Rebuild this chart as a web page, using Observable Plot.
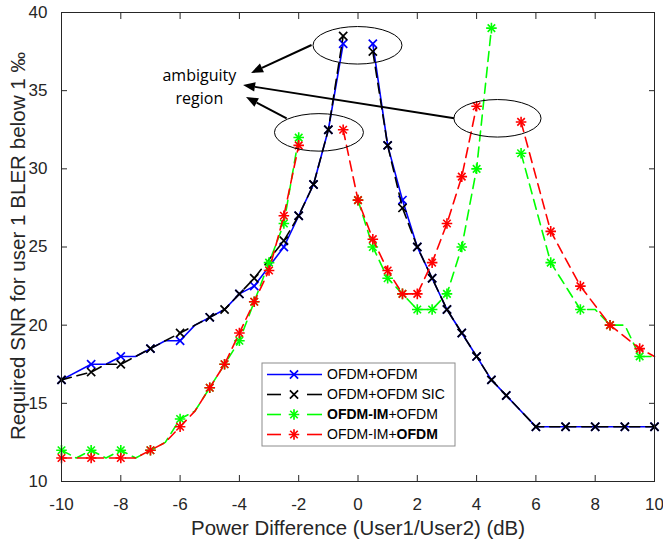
<!DOCTYPE html>
<html><head><meta charset="utf-8">
<script src="https://cdn.jsdelivr.net/npm/d3@7"></script>
<script src="https://cdn.jsdelivr.net/npm/@observablehq/plot@0.6"></script>
<style>body{margin:0;background:#fff;} #chart{width:663px;height:546px;}</style>
</head><body><div id="chart"></div>
<script>
// ---- data ----
const xTicks = [-10, -8, -6, -4, -2, 0, 2, 4, 6, 8, 10];
const yTicks = [10, 15, 20, 25, 30, 35, 40];

const xBlue = [-10,-9,-8.5,-8,-7.5,-7,-6.5,-6,-5.5,-5,-4.5,-4,-3.5,-2.5,-2,-1.5,-1,-0.5,0,0.5,1,1.5,2,2.5,3,3.5,4,4.5,5,6,7,8,9,10];
const yBlue = [16.5,17.5,17.5,18,18,18.5,19,19,20,20.5,21,22,22.5,25,27,29,32.5,38,null,38,31.5,28,25,23,21,19.5,18,16.5,15.5,13.5,13.5,13.5,13.5,13.5];
const blueMarks = [-10,-9,-8,-7,-6,-5,-4,-3.5,-2.5,-2,-1.5,-1,-0.5,0.5,1,1.5,2,2.5,3,3.5,4,4.5,5,6,7,8,9,10];

const xBlack = [-10,-9,-8.5,-8,-7,-6,-5,-4.5,-4,-3.5,-2.5,-2,-1.5,-1,-0.5,0,0.5,1,1.5,2,2.5,3,3.5,4,4.5,5,6,7,8,9,10];
const yBlack = [16.5,17,17.5,17.5,18.5,19.5,20.5,21,22,23,25.4,27,29,32.5,38.5,null,37.5,31.5,27.5,25,23,21,19.5,18,16.5,15.5,13.5,13.5,13.5,13.5,13.5];
const blackMarks = [-10,-9,-8,-7,-6,-5,-4.5,-4,-3.5,-2.5,-2,-1.5,-1,-0.5,0.5,1,1.5,2,2.5,3,3.5,4,4.5,5,6,7,8,9,10];

const xGreen = [-10,-9.5,-9,-8.5,-8,-7.5,-7,-6.5,-6,-5.5,-5,-4.5,-4,-3.5,-3,-2.5,-2,-1.5,0,0.5,1,1.5,2,2.5,3,3.5,4,4.5,5,5.5,6.5,7.5,8,8.5,9,9.5,10];
const yGreen = [12,11.5,12,11.5,12,11.5,12,12.5,14,14.5,16,17.5,19,21.5,24,26.5,32,null,28,25,23,22,21,21,22,25,30,39,null,31,24,21,21,20,20,18,18];
const greenMarks = [-10,-9,-8,-7,-6,-5,-4.5,-4,-3.5,-3,-2.5,-2,0,0.5,1,1.5,2,2.5,3,3.5,4,4.5,5.5,6.5,7.5,8.5,9.5];

const xRed = [-10,-9,-8,-7.5,-7,-6.5,-6,-5.5,-5,-4.5,-4,-3.5,-3,-2.5,-2,-1,-0.5,0,0.5,1,1.5,2,2.5,3,3.5,4,5,5.5,6.5,7.5,8.5,9.5,10];
const yRed = [11.5,11.5,11.5,11.5,12,12.5,13.5,14.5,16,17.5,19.5,21.5,23.5,27,31.5,null,32.5,28,25.5,23.5,22,22,24,26.5,29.5,34,null,33,26,22.5,20,18.5,18];
const redMarks = [-10,-9,-8,-7,-6,-5,-4.5,-4,-3.5,-3,-2.5,-2,-0.5,0,0.5,1,1.5,2,2.5,3,3.5,4,5.5,6.5,7.5,8.5,9.5];

// legend labels: [text, bold]
const legendParts = [
  [["OFDM+OFDM", false]],
  [["OFDM+OFDM SIC", false]],
  [["OFDM-IM", true], ["+OFDM", false]],
  [["OFDM-IM+", false], ["OFDM", true]]
];

// annotations (data units)
const ellipseCx = [0, -1.3, 4.72];
const ellipseCy = [37.87, 32.3, 33.2];
const ellipseRx = [1.5, 1.5, 1.47];
const ellipseRy = [1.2, 1.2, 1.2];
const arrowX1 = [-1.55, 3.26, -2.39];
const arrowY1 = [37.89, 33.2, 33.2];
const arrowX2 = [-3.59, -3.86, -3.76];
const arrowY2 = [36.10, 35.33, 34.56];
const annoText = "ambiguity\nregion";
const annoX = -5.35, annoY = 35.35;

const xLabel = "Power Difference (User1/User2) (dB)";
const yLabel = "Required SNR for user 1 BLER below 1 \u2030";

// ---- build tables ----
const styles = [
  {color: "#0000ff", dash: null, sym: "x"},
  {color: "#000000", dash: "10,6", sym: "x"},
  {color: "#00ff00", dash: "10,6", sym: "*"},
  {color: "#ff0000", dash: "10,6", sym: "*"}
];
const xs = [xBlue, xBlack, xGreen, xRed];
const ys = [yBlue, yBlack, yGreen, yRed];
const marks = [blueMarks, blackMarks, greenMarks, redMarks];

const plotMarks = [];
for (let s = 0; s < 4; s++) {
  const rows = xs[s].map((x, i) => ({x, y: ys[s][i]}));
  const mrows = rows.filter(r => r.y != null && marks[s].includes(r.x));
  const st = styles[s];
  plotMarks.push(Plot.line(rows, {x: "x", y: "y", stroke: st.color, strokeWidth: 1.6, strokeDasharray: st.dash, curve: "linear"}));
  if (st.sym === "x") {
    plotMarks.push(Plot.dot(mrows, {x: "x", y: "y", symbol: "times", r: 3.8, stroke: st.color, strokeWidth: 1.7}));
  } else {
    plotMarks.push(Plot.dot(mrows, {x: "x", y: "y", symbol: "times", r: 3.5, stroke: st.color, strokeWidth: 1.6}));
    plotMarks.push(Plot.dot(mrows, {x: "x", y: "y", symbol: "plus", r: 3.5, stroke: st.color, strokeWidth: 1.6}));
  }
}

const plot = Plot.plot({
  width: 663, height: 546,
  marginLeft: 61, marginRight: 9, marginTop: 12, marginBottom: 65,
  x: {domain: [-10, 10]},
  y: {domain: [10, 40]},
  style: {fontFamily: "'Liberation Sans', Arial, sans-serif", fontSize: "17px", color: "#262626", background: "white", overflow: "visible"},
  marks: [
    Plot.axisX({ticks: xTicks, tickSize: -6, tickPadding: 22, tickFormat: d => String(d).replace("\u2212","-"), label: null, fontSize: 17}),
    Plot.axisX({ticks: xTicks, anchor: "top", tickSize: -6, tickFormat: () => "", label: null}),
    Plot.axisY({ticks: yTicks, tickSize: -6, tickPadding: 20, label: null, fontSize: 17}),
    Plot.axisY({ticks: yTicks, anchor: "right", tickSize: -6, tickFormat: () => "", label: null}),
    ...plotMarks,
    Plot.frame({stroke: "#262626", strokeWidth: 1}),
    Plot.text([xLabel], {text: d => d, frameAnchor: "bottom", lineAnchor: "middle", dy: 47, fontSize: 20.4, fill: "#262626"}),
    Plot.text([yLabel], {text: d => d, frameAnchor: "left", textAnchor: "middle", lineAnchor: "middle", rotate: -90, dx: -43, dy: -1, fontSize: 20.6, fill: "#262626"}),
    Plot.text([annoText], {text: d => d, x: () => annoX, y: () => annoY, fontSize: 16, fontFamily: "'Open Sans', sans-serif", lineHeight: 1.4, fill: "#000"})
  ]
});

document.getElementById("chart").appendChild(plot);

// ---- annotations and legend, positioned through Plot's scales ----
const sx = plot.scale("x"), sy = plot.scale("y");
const svg = d3.select(plot);
const g = svg.append("g");
for (let i = 0; i < ellipseCx.length; i++) {
  const cx = sx.apply(ellipseCx[i]), cy = sy.apply(ellipseCy[i]);
  g.append("ellipse").attr("cx", cx).attr("cy", cy)
    .attr("rx", Math.abs(sx.apply(ellipseCx[i] + ellipseRx[i]) - cx))
    .attr("ry", Math.abs(sy.apply(ellipseCy[i] + ellipseRy[i]) - cy))
    .attr("fill", "none").attr("stroke", "#000").attr("stroke-width", 1);
}
for (let i = 0; i < arrowX1.length; i++) {
  const x1 = sx.apply(arrowX1[i]), y1 = sy.apply(arrowY1[i]);
  const x2 = sx.apply(arrowX2[i]), y2 = sy.apply(arrowY2[i]);
  const len = Math.hypot(x2 - x1, y2 - y1);
  const ux = (x2 - x1) / len, uy = (y2 - y1) / len;
  const L = 12, W = 4.8;
  const bx = x2 - ux * L, by = y2 - uy * L;
  g.append("line").attr("x1", x1).attr("y1", y1).attr("x2", bx).attr("y2", by)
    .attr("stroke", "#000").attr("stroke-width", 2);
  g.append("path").attr("d", `M${x2},${y2}L${bx - uy * W},${by + ux * W}L${bx + uy * W},${by - ux * W}Z`)
    .attr("fill", "#000");
}

// legend box (inside the axes, lower centre)
const lg = svg.append("g").attr("transform", "translate(262,363)");
lg.append("rect").attr("x", 0).attr("y", 0).attr("width", 193).attr("height", 83)
  .attr("fill", "#fff").attr("stroke", "#8c8c8c").attr("stroke-width", 1);
const symTimes = d3.symbol(d3.symbolTimes, 3.8 * 3.8 * Math.PI)();
const symTimesS = d3.symbol(d3.symbolTimes, 3.5 * 3.5 * Math.PI)();
const symPlus = d3.symbol(d3.symbolPlus, 3.5 * 3.5 * Math.PI)();
legendParts.forEach((parts, i) => {
  const y = 11.5 + i * 20;
  const st = styles[i];
  if (st.dash) {
    lg.append("line").attr("x1", 5).attr("x2", 19).attr("y1", y).attr("y2", y).attr("stroke", st.color).attr("stroke-width", 1.6);
    lg.append("line").attr("x1", 45).attr("x2", 60).attr("y1", y).attr("y2", y).attr("stroke", st.color).attr("stroke-width", 1.6);
  } else {
    lg.append("line").attr("x1", 5).attr("x2", 60).attr("y1", y).attr("y2", y).attr("stroke", st.color).attr("stroke-width", 1.6);
  }
  const mg = lg.append("g").attr("transform", `translate(32,${y})`).attr("fill", "none").attr("stroke", st.color).attr("stroke-width", 1.7);
  if (st.sym === "x") mg.append("path").attr("d", symTimes);
  else { mg.append("path").attr("d", symTimesS); mg.append("path").attr("d", symPlus); }
  const t = lg.append("text").attr("x", 65).attr("y", y).attr("dy", "0.35em").attr("text-anchor", "start")
    .attr("font-family", "'Liberation Sans', Arial, sans-serif").attr("font-size", 14).attr("fill", "#000");
  parts.forEach(([txt, b]) => t.append("tspan").attr("font-weight", b ? "bold" : "normal").text(txt));
});
</script>
</body></html>
